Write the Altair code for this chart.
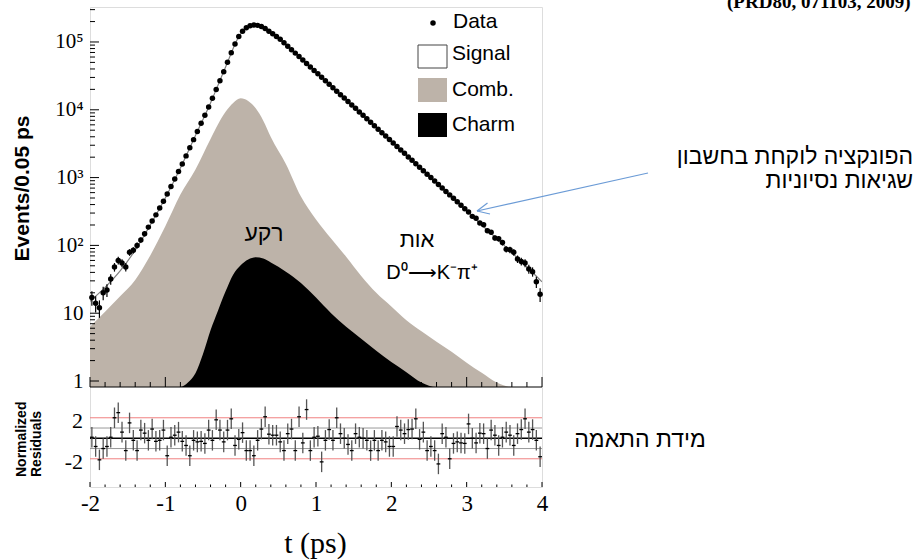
import altair as alt
import numpy as np
import pandas as pd

# ---- proper-time distribution, 0.05 ps bins from -2 to 4 ps ----
bin_width = 0.05
events = [17, 14, 12, 20, 22, 32, 48, 60, 55, 48,
          79, 85, 100, 120, 148, 186, 229, 282, 355, 447,
          575, 741, 955, 1230, 1585, 2090, 2750, 3630, 4790, 6310,
          8320, 10960, 14790, 19950, 26900, 36300, 50100, 69200, 93300, 120200,
          144500, 162200, 173800, 177800, 175800, 169800, 158500, 144500, 131800, 120200,
          109600, 97500, 86700, 77100, 68500, 61000, 54200, 48200, 42900, 38100,
          33900, 30100, 26800, 23800, 21200, 18800, 16700, 14900, 13200, 11800,
          10500, 9310, 8280, 7360, 6550, 5820, 5180, 4600, 4090, 3640,
          3240, 2880, 2560, 2280, 2020, 1800, 1600, 1420, 1260, 1120,
          1000, 889, 791, 703, 625, 556, 494, 440, 391, 348,
          312, 268, 251, 214, 201, 165, 156, 129, 125, 110,
          88, 86, 79, 63, 58, 55, 45, 41, 29, 19]

residuals = [0.1, -0.8, -2.1, -1.0, -0.8, 0.1, 2.0, 2.5, 0.6, -1.2,
             1.5, -0.2, -1.2, 0.8, 0.5, -0.2, 0.9, -0.3, -0.2, 0.8,
             -1.7, 0.1, 0.3, 0.6, -0.3, -0.7, -1.7, -0.2, -0.35, -0.3,
             -0.5, 0.8, -0.2, 1.8, 0.8, -0.35, 0.8, 1.9, -0.7, -0.1,
             0.55, -1.2, -1.2, -1.7, -0.2, 0.9, 2.1, 0.4, 0.3, 0.3,
             -0.35, -1.2, 0.45, 0.9, -1.2, 2.1, -0.45, 2.8, -1.2, 0.1,
             0.2, -2.3, -0.2, 0.85, -0.2, 2.0, 0.45, 0.0, -0.6, -1.2,
             0.45, 0.1, 0.0, -0.2, -1.2, -0.2, -1.2, -0.2, -0.35, -0.8,
             -0.8, 1.15, 0.8, 0.45, 0.85, 0.9, 1.9, -0.1, 0.6, -1.2,
             -0.8, -1.2, -2.5, 0.45, 0.1, -2.0, -0.5, -0.35, -0.45, -0.5,
             1.4, 0.0, -0.45, 0.5, 0.45, -1.0, 0.8, 0.3, -0.7, 0.1,
             0.6, 0.3, -0.7, 0.45, 0.85, 1.9, 0.6, 0.85, -0.2, -1.8]

bin_centers = -2 + bin_width / 2 + bin_width * np.arange(len(events))

# total fit
fit_t = [-2.0, -1.8, -1.6, -1.4, -1.2, -1.0, -0.8, -0.6, -0.4, -0.2,
         0.0, 0.2, 0.4, 0.6, 0.8, 1.0, 1.2, 1.4, 1.6, 1.8,
         2.0, 2.2, 2.4, 2.6, 2.8, 3.0, 3.2, 3.4, 3.6, 3.8, 4.0]
fit_n = [15, 24, 42, 85, 200, 500, 1380, 4170, 12600, 42700,
         132000, 178000, 138000, 91200, 57500, 35500, 22400, 13800, 8710, 5500,
         3390, 2140, 1320, 832, 513, 324, 200, 126, 78, 48, 29]

# combinatorial background
comb_t = [-2.0, -1.8, -1.6, -1.4, -1.2, -1.0, -0.8, -0.6, -0.4, -0.2, -0.1,
          0.0, 0.1, 0.2, 0.3, 0.4, 0.6, 0.8, 1.0, 1.2, 1.4, 1.6, 1.8,
          2.0, 2.2, 2.4, 2.6, 2.8, 3.0, 3.2, 3.4, 3.6, 3.8, 4.0]
comb_n = [6.3, 10.5, 17.8, 31, 71, 191, 562, 1320, 3720, 9330, 12600,
          14800, 13500, 10500, 6920, 3980, 1585, 525, 240, 126, 68, 35.5, 20,
          12.6, 7.9, 5.4, 3.8, 2.7, 1.86, 1.32, 0.95, 0.63, 0.45, 0.3]

# charm background
charm_t = [-2.0, -0.9, -0.8, -0.7, -0.6, -0.5, -0.4, -0.3, -0.2, -0.1, 0.0,
           0.1, 0.2, 0.3, 0.4, 0.6, 0.8, 1.0, 1.2, 1.4, 1.6, 1.8,
           2.0, 2.2, 2.4, 2.6, 2.8, 4.0]
charm_n = [0.3, 0.3, 0.5, 0.95, 1.3, 2.5, 5.6, 11, 21, 37, 51,
           62, 67, 64, 56, 41, 28, 17, 10, 6.3, 4.2, 2.8,
           1.9, 1.35, 0.95, 0.6, 0.3, 0.3]

# axis ticks
x_major = [-2, -1, 0, 1, 2, 3, 4]
x_minor = [-1.8, -1.6, -1.4, -1.2, -0.8, -0.6, -0.4, -0.2, 0.2, 0.4, 0.6, 0.8,
           1.2, 1.4, 1.6, 1.8, 2.2, 2.4, 2.6, 2.8, 3.2, 3.4, 3.6, 3.8]
y_major = [1, 10, 100, 1000, 10000, 100000]
mantissas = [2, 3, 4, 5, 6, 7, 8, 9]
y_minor = [m * d for d in y_major for m in mantissas if m * d < 328000]
res_lines_red = [-2, 2]
res_lines_gray = [-1, 1]
res_labels = ["2", "-2"]

# ---- layout (pixels) ----
W = 452
H_MAIN = 380
H = 480
SERIF = "Liberation Serif"
SANS = "Liberation Sans"

x_scale = alt.Scale(domain=[-2, 4], nice=False, zero=False)
main_scale = alt.Scale(type="log", domain=[0.816, 328000], range=[H_MAIN, 0], clamp=True)
res_scale = alt.Scale(domain=[-4.75, 5], range=[H, H_MAIN], nice=False, zero=False)

# one shared bottom axis definition, repeated on every layer with an x field
x_axis = alt.Axis(
    values=x_major, ticks=False, tickSize=0, domain=False, grid=False,
    labelExpr="datum.value < 0 ? '-' + abs(datum.value) : '' + datum.value",
    labelFont=SERIF, labelFontSize=23, labelColor="black", labelPadding=16,
    labelBaseline="middle", labelFlush=False,
    title="t (ps)", titleFont=SERIF, titleFontSize=30, titleFontWeight="normal",
    titleColor="black", titleX=225, titleY=56, titleBaseline="middle", titleAlign="center",
)
y_axis = alt.Axis(
    values=y_major, ticks=False, tickSize=0, domain=False, grid=False, labelOverlap=False,
    labelExpr=("datum.value == 1 ? '1' : datum.value == 10 ? '10' : datum.value == 100 ? '10\u00b2' : "
               "datum.value == 1000 ? '10\u00b3' : datum.value == 10000 ? '10\u2074' : '10\u2075'"),
    labelFont=SERIF, labelFontSize=21, labelColor="black", labelPadding=7,
    title="Events/0.05 ps", titleFont=SANS, titleFontSize=21, titleFontWeight="bold",
    titleColor="black", titleAngle=270, titleX=-68, titleY=181,
    titleAlign="center", titleBaseline="middle",
)


def xenc(field):
    return alt.X(f"{field}:Q", scale=x_scale, axis=x_axis)


X = xenc("t")

df_data = pd.DataFrame({"t": bin_centers, "n": events})
df_res = pd.DataFrame({"t": bin_centers, "r": residuals})
df_fit = pd.DataFrame({"t": fit_t, "n": fit_n})
df_comb = pd.DataFrame({"t": comb_t, "n": comb_n})
df_charm = pd.DataFrame({"t": charm_t, "n": charm_n})
one = pd.DataFrame({"k": [0]})

comb = alt.Chart(df_comb).mark_area(color="#bdb3a9", interpolate="monotone", clip=True).encode(
    x=X, y=alt.Y("n:Q", scale=main_scale, axis=y_axis), y2=alt.value(H_MAIN))
charm = alt.Chart(df_charm).mark_area(color="black", interpolate="monotone", clip=True).encode(
    x=X, y=alt.Y("n:Q", scale=main_scale, axis=None), y2=alt.value(H_MAIN))
fit = alt.Chart(df_fit).mark_line(color="#808080", strokeWidth=1.2, interpolate="monotone", clip=True).encode(
    x=X, y=alt.Y("n:Q", scale=main_scale, axis=None))
err = alt.Chart(df_data).transform_calculate(
    lo="datum.n - sqrt(datum.n)", hi="datum.n + sqrt(datum.n)"
).mark_rule(color="black", strokeWidth=1.2).encode(
    x=X, y=alt.Y("lo:Q", scale=main_scale, axis=None), y2="hi:Q")
dots = alt.Chart(df_data).mark_circle(color="black", size=30, opacity=1).encode(
    x=X, y=alt.Y("n:Q", scale=main_scale, axis=None))

# residual panel
red = alt.Chart(pd.DataFrame({"r": res_lines_red})).mark_rule(color="#f08080", strokeWidth=1).encode(
    x=alt.value(0), x2=alt.value(W), y=alt.Y("r:Q", scale=res_scale, axis=None))
gray = alt.Chart(pd.DataFrame({"r": res_lines_gray})).mark_rule(color="#999999", strokeWidth=1).encode(
    x=alt.value(0), x2=alt.value(W), y=alt.Y("r:Q", scale=res_scale, axis=None))
zero = alt.Chart(pd.DataFrame({"r": [0]})).mark_rule(color="black", strokeWidth=1.6).encode(
    x=alt.value(0), x2=alt.value(W), y=alt.Y("r:Q", scale=res_scale, axis=None))
res_err = alt.Chart(df_res).transform_calculate(
    lo="datum.r - 1", hi="datum.r + 1"
).mark_rule(color="#555555", strokeWidth=1.3).encode(
    x=X, y=alt.Y("lo:Q", scale=res_scale, axis=None), y2="hi:Q")
res_bin = alt.Chart(df_res).transform_calculate(
    t0="datum.t - 0.025", t1="datum.t + 0.025"
).mark_rule(color="black", strokeWidth=1.3).encode(
    x=xenc("t0"), x2="t1:Q",
    y=alt.Y("r:Q", scale=res_scale, axis=None))
res_lab = alt.Chart(pd.DataFrame({"r": [2, -2], "lab": res_labels})).mark_text(
    font=SERIF, fontSize=22, align="right", baseline="middle", dy=3, color="black"
).encode(x=alt.value(-7), y=alt.Y("r:Q", scale=res_scale, axis=None), text="lab:N")

divider = alt.Chart(one).mark_rule(color="black", strokeWidth=1).encode(
    x=alt.value(0), x2=alt.value(W), y=alt.value(H_MAIN))


# inward ticks
def x_ticks(values, y0, length):
    return alt.Chart(pd.DataFrame({"t": values})).mark_rule(color="black", strokeWidth=1).encode(
        x=X, y=alt.value(y0), y2=alt.value(y0 - length))


def y_ticks(values, length):
    return alt.Chart(pd.DataFrame({"n": values})).mark_rule(color="black", strokeWidth=1).encode(
        x=alt.value(0), x2=alt.value(length), y=alt.Y("n:Q", scale=main_scale, axis=None))


ticks = [x_ticks(x_major, H_MAIN, 10), x_ticks(x_minor, H_MAIN, 5),
         x_ticks(x_major, H, 5), x_ticks(x_minor, H, 2.5),
         y_ticks(y_major, 9), y_ticks(y_minor, 5)]


def text(s, x, y, size, font=SANS, weight="normal", align="center", angle=0, baseline="middle", color="black"):
    return alt.Chart(one).mark_text(
        text=s, font=font, fontSize=size, fontWeight=weight, align=align, angle=angle,
        baseline=baseline, color=color
    ).encode(x=alt.value(x), y=alt.value(y))


def box(x0, x1, y0, y1, fill, stroke=None):
    kw = {"fill": fill}
    if stroke:
        kw.update(stroke=stroke, strokeWidth=1)
    return alt.Chart(one).mark_rect(**kw).encode(
        x=alt.value(x0), x2=alt.value(x1), y=alt.value(y0), y2=alt.value(y1))


def seg(x0, y0, x1, y1, color="#6b9bd6"):
    return alt.Chart(one).mark_rule(color=color, strokeWidth=1.2).encode(
        x=alt.value(x0), x2=alt.value(x1), y=alt.value(y0), y2=alt.value(y1))


legend = [
    alt.Chart(one).mark_circle(color="black", size=30, opacity=1).encode(x=alt.value(343), y=alt.value(16)),
    text("Data", 363, 15, 21, align="left"),
    box(328, 357, 38, 61, "white", "#444444"),
    text("Signal", 362, 47, 21, align="left"),
    box(328, 357, 71, 95, "#bdb3a9"),
    text("Comb.", 362, 83, 21, align="left"),
    box(328, 357, 106, 130, "black"),
    text("Charm", 362, 118, 21, align="left"),
]

notes = [
    text("רקע", 174, 227, 23),
    text("אות", 327, 233, 22),
    text("D\u2070\u27f6K\u207b\u03c0\u207a", 342, 266, 20),
    text("הפונקציה לוקחת בחשבון", 823, 150, 23, align="right"),
    text("שגיאות נסיוניות", 823, 174, 23, align="right"),
    text("מידת התאמה", 550, 433, 23),
    text("(PRD80, 071103, 2009)", 637, 1, 19, font=SERIF, weight="bold", align="left", baseline="alphabetic"),
    text("Normalized", -68.5, 470, 14, weight="bold", align="left", angle=270),
    text("Residuals", -53.5, 470, 14, weight="bold", align="left", angle=270),
    seg(387, 204, 558, 166),
    seg(387, 204, 400, 207),
    seg(387, 204, 397.5, 196),
]

chart = alt.layer(
    comb, charm, fit, err, dots,
    red, gray, zero, res_err, res_bin, res_lab, divider,
    *ticks, *legend, *notes
).resolve_scale(y="independent").properties(
    width=W, height=H,
    padding={"left": 90, "top": 7, "right": 375, "bottom": 73},
    autosize=alt.AutoSizeParams(type="none"),
).configure_view(stroke="black", strokeWidth=1).configure(background="white")

chart.save("out.html", embed_options={"renderer": "svg", "actions": False})
